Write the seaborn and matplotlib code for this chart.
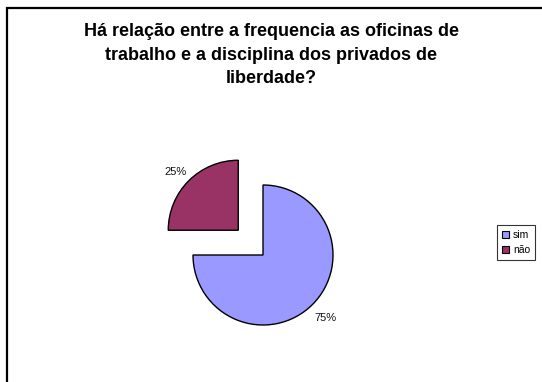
import matplotlib
matplotlib.use("Agg")
import matplotlib.pyplot as plt
import matplotlib.patches as mpatches
import seaborn as sns

title = "Há relação entre a frequencia as oficinas de\ntrabalho e a disciplina dos privados de\nliberdade?"
categories = ["sim", "não"]
values = [75, 25]
colors = ["#9999FF", "#993366"]
explode = [0.0, 0.5]

sns.set_theme(style="white")
plt.rcParams["font.family"] = ["Liberation Sans", "DejaVu Sans"]
plt.rcParams["text.color"] = "black"

W, H = 542, 382
fig = plt.figure(figsize=(W / 100, H / 100), dpi=100)
fig.patch.set_facecolor("white")

# outer border (chart area), clipped by the image edges
fig.patches.append(mpatches.Rectangle((7 / W, -0.05), 1.2, 1 - 8 / H + 0.05,
                                      transform=fig.transFigure, fill=False,
                                      edgecolor="black", linewidth=1.6))

cx, cy, half = 263, H - 255, 126
ax = fig.add_axes([(cx - half) / W, (cy - half) / H, 2 * half / W, 2 * half / H])
wedges, texts, autotexts = ax.pie(values, colors=colors, explode=explode,
                                  startangle=90, counterclock=False,
                                  autopct="%1.0f%%", pctdistance=1.27,
                                  wedgeprops=dict(edgecolor="black", linewidth=1.0),
                                  textprops=dict(fontsize=8, color="#111111"))
# small nudge of the "25%" label to match the reference placement
x, y = autotexts[1].get_position()
autotexts[1].set_position((x, y - 0.07))
ax.set_xlim(-1.8, 1.8)
ax.set_ylim(-1.8, 1.8)
ax.set_aspect("equal")
ax.axis("off")

fig.text(0.5, 1 - 55 / H, title, ha="center", va="center", fontsize=13,
         fontweight="bold", linespacing=1.52, color="black")

handles = [mpatches.Patch(facecolor=c, edgecolor="black", linewidth=0.8) for c in colors]
leg = fig.legend(handles, categories, loc="center left",
                 bbox_to_anchor=(497 / W, 1 - 242.5 / H), fontsize=7.5,
                 frameon=True, fancybox=False, handlelength=0.7, handleheight=0.7,
                 handletextpad=0.4, borderpad=0.45, labelspacing=0.45,
                 borderaxespad=0)
leg.get_frame().set_edgecolor("black")
leg.get_frame().set_linewidth(0.8)
for t in leg.get_texts():
    t.set_color("black")

fig.savefig("out.png", dpi=100, facecolor="white")
